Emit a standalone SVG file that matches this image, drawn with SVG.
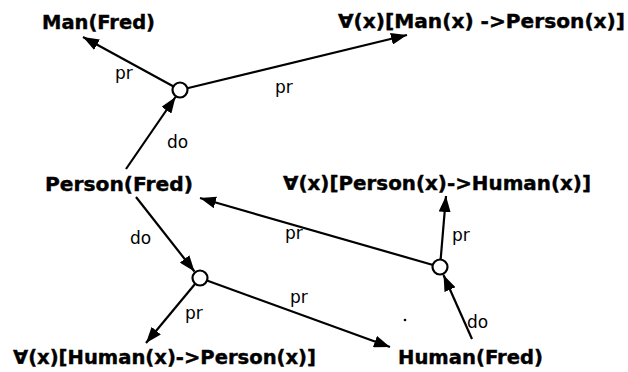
<svg xmlns="http://www.w3.org/2000/svg" width="628" height="372" viewBox="0 0 628 372">
  <style>
    .term { font-family: "DejaVu Sans", "Liberation Sans", sans-serif; font-weight: bold; font-size: 19px; fill: #000; stroke: #000; stroke-width: 0.4; }
    .lbl { font-family: "DejaVu Sans", "Liberation Sans", sans-serif; font-size: 17px; fill: #000; }
    .edge { stroke: #000; stroke-width: 2.2; fill: none; marker-end: url(#head); }
    .junc { fill: #fff; stroke: #000; stroke-width: 2.2; }
  </style>
  <defs>
    <marker id="head" markerUnits="userSpaceOnUse" markerWidth="16" markerHeight="12" refX="16" refY="6" orient="auto">
      <path d="M0,0 L16,6 L0,12 Z" fill="#000"/>
    </marker>
  </defs>
  <rect width="628" height="372" fill="#fff"/>

  <!-- connectors -->
  <g id="connectors">
    <line class="edge" x1="180" y1="90" x2="83" y2="37"/>
    <line class="edge" x1="180" y1="90" x2="407" y2="35"/>
    <line class="edge" x1="126" y1="169" x2="175.5" y2="97"/>
    <line class="edge" x1="136" y1="197" x2="194.5" y2="271.5"/>
    <line class="edge" x1="200" y1="278" x2="146" y2="343"/>
    <line class="edge" x1="200" y1="278" x2="390" y2="347"/>
    <line class="edge" x1="440" y1="267" x2="200" y2="198"/>
    <line class="edge" x1="440" y1="267" x2="446" y2="196"/>
    <line class="edge" x1="472" y1="339" x2="443.5" y2="275"/>
    <text class="lbl" x="115" y="79">pr</text>
    <text class="lbl" x="275" y="93">pr</text>
    <text class="lbl" x="167" y="148">do</text>
    <text class="lbl" x="130" y="244">do</text>
    <text class="lbl" x="285" y="239">pr</text>
    <text class="lbl" x="185" y="319">pr</text>
    <text class="lbl" x="290" y="303">pr</text>
    <text class="lbl" x="452" y="241">pr</text>
    <text class="lbl" x="467" y="328">do</text>
  </g>

  <!-- junction points -->
  <g id="j1"><circle class="junc" cx="180" cy="90" r="7.5"/></g>
  <g id="j2"><circle class="junc" cx="200" cy="278" r="7.5"/></g>
  <g id="j3"><circle class="junc" cx="440" cy="267" r="7.5"/></g>

  <!-- statements -->
  <g id="man-fred"><text class="term" x="42" y="29" textLength="113" lengthAdjust="spacingAndGlyphs">Man(Fred)</text></g>
  <g id="rule-man-person"><text class="term" x="338" y="28" textLength="287" lengthAdjust="spacingAndGlyphs">∀(x)[Man(x) -&gt;Person(x)]</text></g>
  <g id="person-fred"><text class="term" x="45" y="191" textLength="148" lengthAdjust="spacingAndGlyphs">Person(Fred)</text></g>
  <g id="rule-person-human"><text class="term" x="283" y="190" textLength="308" lengthAdjust="spacingAndGlyphs">∀(x)[Person(x)-&gt;Human(x)]</text></g>
  <g id="rule-human-person"><text class="term" x="13" y="364" textLength="303" lengthAdjust="spacingAndGlyphs">∀(x)[Human(x)-&gt;Person(x)]</text></g>
  <g id="human-fred"><text class="term" x="398" y="364" textLength="145" lengthAdjust="spacingAndGlyphs">Human(Fred)</text></g>

  <circle cx="405" cy="320" r="1.3" fill="#000"/>
</svg>
